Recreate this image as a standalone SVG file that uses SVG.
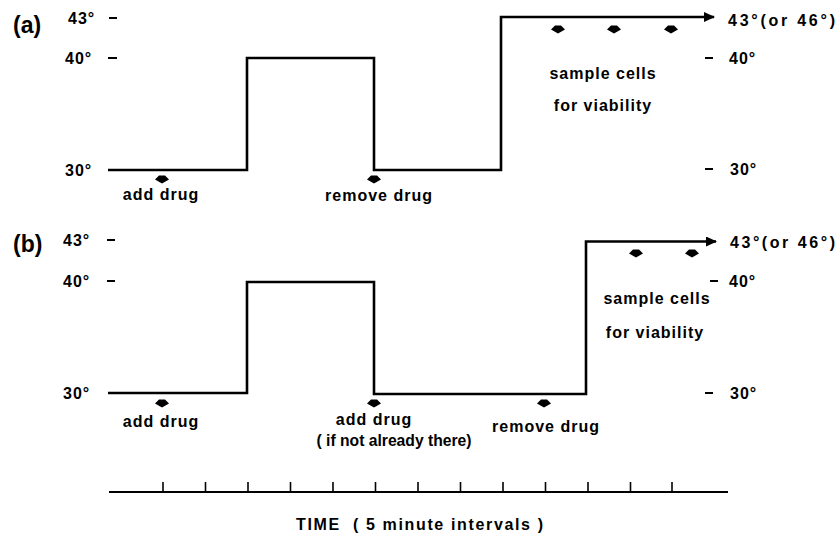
<svg xmlns="http://www.w3.org/2000/svg" width="838" height="533" viewBox="0 0 838 533">
<style>
text{font-family:"Liberation Sans",Arial,sans-serif;font-weight:bold;font-size:16px;fill:#000;letter-spacing:1px}
.pl{font-size:23px;letter-spacing:0}
.mid{text-anchor:middle}
.tight{letter-spacing:0}
.wave{fill:none;stroke:#000;stroke-width:2.6;stroke-linejoin:miter}
.dash{stroke:#000;stroke-width:2}
.axis{stroke:#000;stroke-width:2;fill:none}
.tick{stroke:#000;stroke-width:1.6}
</style>
<defs>
<path id="mk" d="M-7,0.5 L-3,-3.5 L3,-3.5 L7,0.5 L0,4.5 Z" fill="#000"/>
<marker id="arr" markerWidth="12" markerHeight="10" refX="10" refY="5" orient="auto" markerUnits="userSpaceOnUse">
<path d="M0,0 L11,5 L0,10 Z" fill="#000"/>
</marker>
</defs>

<g id="panel-a">
<text class="pl" x="13" y="33">(a)</text>
<g id="a-left-axis">
<text x="68" y="24">43°</text><line class="dash" x1="109" y1="18" x2="117" y2="18"/>
<text x="65" y="64">40°</text><line class="dash" x1="108" y1="58" x2="117" y2="58"/>
<text x="65" y="176">30°</text>
</g>
<g id="a-right-axis">
<text x="728" y="26" textLength="108" lengthAdjust="spacing">43°(or 46°)</text>
<line class="dash" x1="705" y1="58" x2="713" y2="58"/><text x="729" y="64">40°</text>
<line class="dash" x1="705" y1="169" x2="713" y2="169"/><text x="730" y="175">30°</text>
</g>
<g id="a-trace">
<path class="wave" d="M108,170 H247 V58 H374 V170 H501 V17 H714" marker-end="url(#arr)"/>
</g>
<g id="a-add-drug"><use href="#mk" x="162" y="179"/><text class="mid" x="161" y="200">add drug</text></g>
<g id="a-remove-drug"><use href="#mk" x="374" y="179"/><text class="mid" x="379" y="201">remove drug</text></g>
<g id="a-sample">
<use href="#mk" x="558" y="29"/><use href="#mk" x="614" y="29"/><use href="#mk" x="671" y="29"/>
<text class="mid" x="603" y="79">sample cells</text>
<text class="mid" x="603" y="111">for viability</text>
</g>
</g>

<g id="panel-b">
<text class="pl" x="13" y="252">(b)</text>
<g id="b-left-axis">
<text x="63" y="246">43°</text><line class="dash" x1="107" y1="240" x2="115" y2="240"/>
<text x="63" y="287">40°</text><line class="dash" x1="107" y1="281" x2="115" y2="281"/>
<text x="63" y="399">30°</text>
</g>
<g id="b-right-axis">
<text x="730" y="248" textLength="106" lengthAdjust="spacing">43°(or 46°)</text>
<line class="dash" x1="710" y1="281" x2="718" y2="281"/><text x="729" y="287">40°</text>
<line class="dash" x1="705" y1="393" x2="713" y2="393"/><text x="730" y="399">30°</text>
</g>
<g id="b-trace">
<path class="wave" d="M108,393 H247 V282 H374 V394 H586 V241.5 H716" marker-end="url(#arr)"/>
</g>
<g id="b-add-drug"><use href="#mk" x="162" y="403"/><text class="mid" x="161" y="427">add drug</text></g>
<g id="b-add-drug-2"><use href="#mk" x="374" y="403"/><text class="mid" x="374" y="425">add drug</text><text class="mid" x="394" y="446" textLength="155" lengthAdjust="spacingAndGlyphs" style="letter-spacing:0">( if not already there)</text></g>
<g id="b-remove-drug"><use href="#mk" x="544" y="403"/><text class="mid" x="546" y="432">remove drug</text></g>
<g id="b-sample">
<use href="#mk" x="636" y="253"/><use href="#mk" x="692" y="253"/>
<text class="mid" x="657" y="304">sample cells</text>
<text class="mid" x="655" y="338">for viability</text>
</g>
</g>

<g id="time-axis">
<line class="axis" x1="109" y1="492" x2="728" y2="492"/>
<g class="tick">
<line x1="163" y1="482" x2="163" y2="492"/><line x1="205.5" y1="482" x2="205.5" y2="492"/><line x1="248" y1="482" x2="248" y2="492"/><line x1="290.5" y1="482" x2="290.5" y2="492"/><line x1="333" y1="482" x2="333" y2="492"/><line x1="375.5" y1="482" x2="375.5" y2="492"/><line x1="418" y1="482" x2="418" y2="492"/><line x1="460.5" y1="482" x2="460.5" y2="492"/><line x1="503" y1="482" x2="503" y2="492"/><line x1="545.5" y1="482" x2="545.5" y2="492"/><line x1="588" y1="482" x2="588" y2="492"/><line x1="630.5" y1="482" x2="630.5" y2="492"/><line x1="672" y1="482" x2="672" y2="492"/>
</g>
<text x="296" y="530" xml:space="preserve" textLength="248" lengthAdjust="spacing">TIME  ( 5 minute intervals )</text>
</g>
</svg>
